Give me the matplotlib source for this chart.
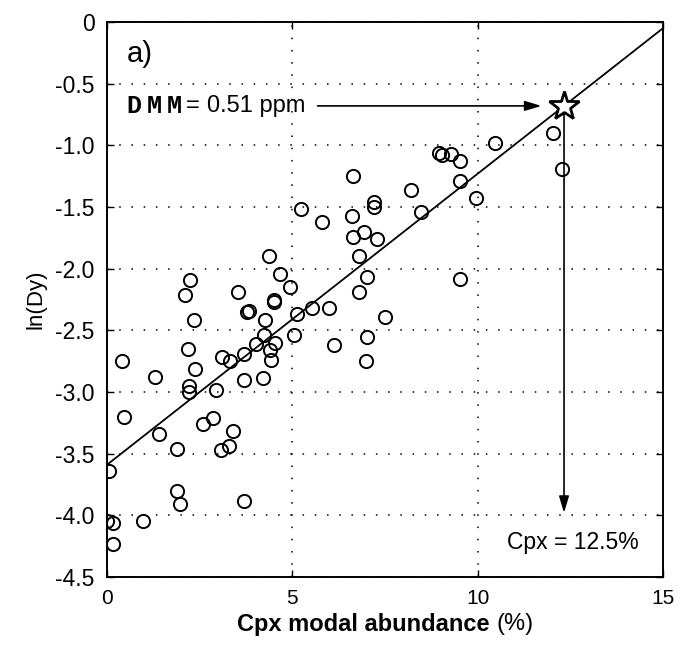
import matplotlib
matplotlib.use("Agg")
import matplotlib.pyplot as plt
import numpy as np

plt.rcParams['font.family'] = ['Liberation Sans', 'DejaVu Sans']
plt.rcParams['axes.unicode_minus'] = False

# Cpx modal abundance (%) and ln(Dy) for each sample
cpx = [0.05, 0.0, 0.15, 0.16, 0.96, 0.4, 0.47, 1.3, 1.39, 1.88, 1.88, 1.97,
       2.18, 2.2, 2.2, 2.37, 2.36, 2.58, 2.87, 2.95, 3.07, 3.1, 3.28, 3.32,
       3.41, 3.7, 3.7, 3.7, 3.82, 4.02, 4.2, 4.23, 4.27, 4.4, 4.42, 4.52,
       4.5, 5.04, 5.13, 5.53, 5.98, 6.12, 7.02, 7.0, 7.51, 6.63, 5.22, 5.8,
       6.61, 7.2, 7.2, 6.93, 6.63, 7.29, 6.81, 7.02, 6.81, 4.36, 4.68, 4.95,
       4.51, 3.53, 2.24, 2.11, 3.79, 8.95, 9.04, 9.27, 9.51, 10.47, 12.02,
       12.27, 8.19, 9.51, 8.46, 9.96, 9.51]
ln_dy = [-3.64, -4.05, -4.06, -4.23, -4.05, -2.75, -3.20, -2.88, -3.34, -3.46,
         -3.80, -3.91, -2.65, -2.95, -3.00, -2.81, -2.42, -3.26, -3.21, -2.98,
         -3.47, -2.72, -3.44, -2.75, -3.32, -2.69, -2.90, -3.88, -2.34, -2.61,
         -2.89, -2.54, -2.42, -2.66, -2.74, -2.60, -2.27, -2.54, -2.37, -2.32,
         -2.32, -2.62, -2.55, -2.75, -2.39, -1.25, -1.52, -1.62, -1.57, -1.46,
         -1.50, -1.70, -1.74, -1.76, -1.90, -2.07, -2.19, -1.90, -2.04, -2.15,
         -2.25, -2.19, -2.09, -2.21, -2.35, -1.06, -1.08, -1.07, -1.13, -0.98,
         -0.90, -1.19, -1.36, -1.29, -1.54, -1.43, -2.08]

# Regression line ln(Dy) = a + b * Cpx
fit_intercept = -3.59
fit_slope = 0.236

# DMM estimate
dmm_cpx = 12.33
dmm_lndy = fit_intercept + fit_slope * dmm_cpx

x_ticks = [0, 5, 10, 15]
y_ticks = [0, -0.5, -1.0, -1.5, -2.0, -2.5, -3.0, -3.5, -4.0, -4.5]

fig = plt.figure(figsize=(6.83, 6.48), dpi=100)
ax = fig.add_axes([0.1567, 0.1096, 0.8140, 0.8564])

ax.set_xlim(0, 15)
ax.set_ylim(-4.5, 0)
ax.set_xticks(x_ticks)
ax.set_yticks(y_ticks)
ax.set_xticklabels([str(t) for t in x_ticks])
ax.set_yticklabels(['0' if t == 0 else f'{t:.1f}' for t in y_ticks])
ax.tick_params(direction='in', length=5, width=1, top=True, right=True)
ax.tick_params(axis='x', labelsize=15, pad=9)
ax.tick_params(axis='y', labelsize=16.5, pad=9)
for s in ax.spines.values():
    s.set_linewidth(1.4)

ax.grid(True, color='black', linestyle=(0, (1, 7)), linewidth=1.1)
ax.set_axisbelow(True)

ax.plot(cpx, ln_dy, linestyle='none', marker='o', markersize=9.5,
        markerfacecolor='none', markeredgecolor='black', markeredgewidth=1.4,
        zorder=3)

xl = np.array([0, 15])
ax.plot(xl, fit_intercept + fit_slope * xl, color='black', linewidth=1.3, zorder=3)

arrow_style = dict(arrowstyle='-|>,head_length=1.0,head_width=0.3',
                   color='black', lw=1.2, shrinkA=0, shrinkB=0)
# Horizontal arrow pointing to the DMM star
ax.annotate('', xy=(11.72, dmm_lndy), xytext=(5.68, dmm_lndy),
            arrowprops=arrow_style, zorder=4)
# Vertical arrow down to the Cpx value
ax.annotate('', xy=(dmm_cpx, -3.98), xytext=(dmm_cpx, dmm_lndy),
            arrowprops=arrow_style, zorder=4)

ax.plot([dmm_cpx], [dmm_lndy], marker='*', markersize=22, markerfacecolor='white',
        markeredgecolor='black', markeredgewidth=2.0, linestyle='none', zorder=5)

# "DMM" set in a spaced, bold monospace face
for xc, ch in zip([0.716, 1.27, 1.82], 'DMM'):
    ax.text(xc, dmm_lndy, ch, family='Liberation Mono', fontweight='bold',
            fontsize=18, va='center', ha='center', zorder=6)
ax.text(2.30, dmm_lndy, '=', fontsize=17, va='center', ha='center', zorder=6)
ax.text(2.70, dmm_lndy, '0.51 ppm', fontsize=17, va='center', ha='left', zorder=6)

ax.text(0.52, -0.26, 'a)', fontsize=21, va='center', ha='left')

ax.text(12.57, -4.22, 'Cpx = 12.5%', fontsize=16.5, va='center', ha='center',
        bbox=dict(facecolor='white', edgecolor='none', pad=1), zorder=6)

ax.set_ylabel('ln(Dy)', fontsize=16, labelpad=6)

# x-axis title: bold words followed by the unit in regular weight, centred as a whole
renderer = fig.canvas.get_renderer()
t_bold = fig.text(0, 0, 'Cpx modal abundance ', fontsize=17, fontweight='bold',
                  va='center', ha='left')
t_unit = fig.text(0, 0, '(%)', fontsize=17, va='center', ha='left')
w_bold = t_bold.get_window_extent(renderer).width
w_unit = t_unit.get_window_extent(renderer).width
ax_bb = ax.get_window_extent(renderer)
cx = (ax_bb.x0 + ax_bb.x1) / 2
start = cx - (w_bold + w_unit) / 2
y_fig = 1 - 624 / 648
t_bold.set_position((start / fig.bbox.width, y_fig))
t_unit.set_position(((start + w_bold) / fig.bbox.width, y_fig))

fig.savefig('out.png', dpi=100)
